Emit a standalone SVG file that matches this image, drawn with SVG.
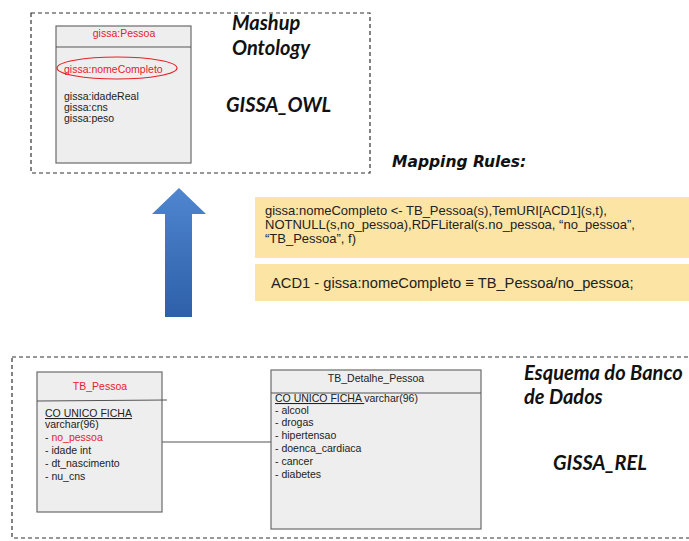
<svg xmlns="http://www.w3.org/2000/svg" width="689" height="541" viewBox="0 0 689 541">
  <defs>
    <linearGradient id="arrowFill" x1="0" y1="0" x2="0" y2="1">
      <stop offset="0" stop-color="#4f86cf"/>
      <stop offset="1" stop-color="#2d60a9"/>
    </linearGradient>
    <style>
      .frame { fill: none; stroke: #333; stroke-width: 1.2; stroke-dasharray: 4 3; }
      .cls { fill: #eeeeee; stroke: #6b6b6b; stroke-width: 1.2; }
      .sep { stroke: #555; stroke-width: 1.2; }
      .t { font-family: "Liberation Sans", Arial, sans-serif; font-size: 10.5px; fill: #222; }
      .red { fill: #e8202a; }
      .title { font-family: Lato, "Open Sans", sans-serif; font-weight: bold; font-style: italic; font-size: 20px; fill: #111; }
      .rule { fill: #fce4a4; }
      .rt { font-family: "Liberation Sans", Arial, sans-serif; font-size: 13px; fill: #222; }
      .link { stroke: #555; stroke-width: 1.2; fill: none; }
    </style>
  </defs>

  <!-- ontology layer -->
  <g id="ontology-frame">
    <rect class="frame" x="31" y="13" width="339" height="160"/>
    <text class="title" x="232" y="30">Mashup</text>
    <text class="title" x="232" y="55">Ontology</text>
    <text class="title" x="226" y="112">GISSA_OWL</text>
  </g>

  <g id="gissa-pessoa">
    <rect class="cls" x="56" y="26" width="135" height="137"/>
    <line class="sep" x1="56" y1="47" x2="191" y2="47"/>
    <text class="t red" x="124" y="37" text-anchor="middle">gissa:Pessoa</text>
    <ellipse cx="117" cy="68" rx="60" ry="11" fill="none" stroke="#e8202a" stroke-width="1.2"/>
    <text class="t red" x="64" y="73">gissa:nomeCompleto</text>
    <text class="t" x="64" y="100">gissa:idadeReal</text>
    <text class="t" x="64" y="111">gissa:cns</text>
    <text class="t" x="64" y="122">gissa:peso</text>
  </g>

  <!-- mapping rules -->
  <g id="mapping-rules">
    <text x="392" y="167" font-family="DejaVu Sans, Verdana, sans-serif" font-weight="bold" font-style="italic" font-size="15.5" fill="#111">Mapping Rules:</text>
    <rect class="rule" x="255" y="197" width="434" height="61"/>
    <text class="rt" x="265" y="215">gissa:nomeCompleto &lt;- TB_Pessoa(s),TemURI[ACD1](s,t),</text>
    <text class="rt" x="265" y="229">NOTNULL(s,no_pessoa),RDFLiteral(s.no_pessoa, “no_pessoa”,</text>
    <text class="rt" x="265" y="243">“TB_Pessoa”, f)</text>
    <rect class="rule" x="255" y="264" width="434" height="37"/>
    <text x="271" y="288" font-family="Liberation Sans, Arial, sans-serif" font-size="14.7" fill="#222">ACD1 - gissa:nomeCompleto ≡ TB_Pessoa/no_pessoa;</text>
  </g>

  <g id="lift-arrow">
    <polygon points="179,188 206,214 192,214 192,317 165,317 165,214 152,214" fill="url(#arrowFill)"/>
  </g>

  <!-- relational layer -->
  <g id="database-frame">
    <rect class="frame" x="12" y="357" width="700" height="181"/>
    <text class="title" x="524" y="380">Esquema do Banco</text>
    <text class="title" x="524" y="404">de Dados</text>
    <text class="title" x="553" y="470">GISSA_REL</text>
  </g>

  <g id="connectors">
    <line class="link" x1="162" y1="442" x2="271" y2="442"/>
  </g>

  <g id="tb-pessoa">
    <rect class="cls" x="37" y="372" width="125" height="140"/>
    <line class="sep" x1="37" y1="401" x2="167" y2="400"/>
    <text class="t red" x="100" y="390" text-anchor="middle">TB_Pessoa</text>
    <text class="t" x="45" y="417" text-decoration="underline">CO UNICO FICHA</text>
    <text class="t" x="45" y="428">varchar(96)</text>
    <text class="t" x="45" y="441">- <tspan class="red">no_pessoa</tspan></text>
    <text class="t" x="45" y="454">- idade int</text>
    <text class="t" x="45" y="467">- dt_nascimento</text>
    <text class="t" x="45" y="480">- nu_cns</text>
  </g>

  <g id="tb-detalhe-pessoa">
    <rect class="cls" x="271" y="370" width="210" height="159"/>
    <line class="sep" x1="271" y1="393" x2="481" y2="393"/>
    <text class="t" x="376" y="382" text-anchor="middle">TB_Detalhe_Pessoa</text>
    <text class="t" x="275" y="402"><tspan text-decoration="underline">CO UNICO FICHA </tspan>varchar(96)</text>
    <text class="t" x="275" y="414">- alcool</text>
    <text class="t" x="275" y="426">- drogas</text>
    <text class="t" x="275" y="439">- hipertensao</text>
    <text class="t" x="275" y="452">- doenca_cardiaca</text>
    <text class="t" x="275" y="465">- cancer</text>
    <text class="t" x="275" y="478">- diabetes</text>
  </g>
</svg>
